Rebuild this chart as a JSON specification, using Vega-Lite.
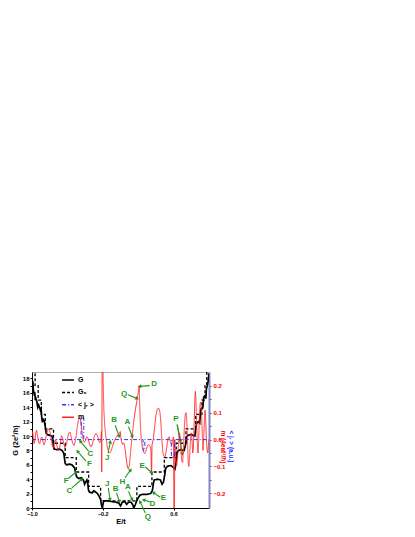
{
"$schema": "https://vega.github.io/schema/vega-lite/v6.json",
"autosize": {"type": "none"},
"width": 177,
"height": 136,
"padding": {"left": 32, "top": 372, "right": 206, "bottom": 29},
"background": "white",
"config": {
  "font": "Liberation Sans",
  "view": {"stroke": "#b0b0b0", "strokeWidth": 1},
  "axis": {"labelFontSize": 6, "labelFontWeight": "bold", "titleFontSize": 7.5, "titleFontWeight": "bold", "grid": false, "tickSize": 2, "labelPadding": 1, "titlePadding": 2, "labelOverlap": false, "domainColor": "#000", "tickColor": "#000", "labelColor": "#000", "titleColor": "#000"},
  "legend": {"orient": "none", "legendX": 29, "legendY": 1, "title": null, "symbolType": "stroke", "symbolSize": 140, "symbolStrokeWidth": 1.5, "labelFontSize": 7, "labelFontWeight": "bold", "rowPadding": 2.4, "labelOffset": 3}
},
"datasets": {
  "g0": [
    {"E": -1.0, "v": 19, "s": "G₀"}, {"E": -0.965, "v": 17, "s": "G₀"}, {"E": -0.93, "v": 15, "s": "G₀"}, {"E": -0.895, "v": 13, "s": "G₀"}, {"E": -0.85, "v": 11, "s": "G₀"}, {"E": -0.757, "v": 9, "s": "G₀"}, {"E": -0.625, "v": 7, "s": "G₀"}, {"E": -0.5, "v": 5, "s": "G₀"}, {"E": -0.36, "v": 3, "s": "G₀"}, {"E": -0.225, "v": 1, "s": "G₀"}, {"E": 0.185, "v": 3, "s": "G₀"}, {"E": 0.355, "v": 5, "s": "G₀"}, {"E": 0.495, "v": 7, "s": "G₀"}, {"E": 0.63, "v": 9, "s": "G₀"}, {"E": 0.74, "v": 11, "s": "G₀"}, {"E": 0.85, "v": 13, "s": "G₀"}, {"E": 0.92, "v": 15, "s": "G₀"}, {"E": 0.955, "v": 17, "s": "G₀"}, {"E": 0.975, "v": 19, "s": "G₀"}, {"E": 1.0, "v": 19, "s": "G₀"}
  ],
  "g": [
    {"E": -1.0, "v": 18.2}, {"E": -0.995, "v": 17.2}, {"E": -0.99, "v": 17.6}, {"E": -0.985, "v": 16.4}, {"E": -0.975, "v": 15.8}, {"E": -0.968, "v": 15.9}, {"E": -0.962, "v": 15.0}, {"E": -0.955, "v": 15.2}, {"E": -0.945, "v": 14.8}, {"E": -0.935, "v": 14.0}, {"E": -0.925, "v": 14.3}, {"E": -0.915, "v": 14.0}, {"E": -0.905, "v": 13.6}, {"E": -0.897, "v": 13.8}, {"E": -0.89, "v": 12.6}, {"E": -0.882, "v": 11.9}, {"E": -0.872, "v": 12.3}, {"E": -0.86, "v": 12.1}, {"E": -0.85, "v": 11.3}, {"E": -0.84, "v": 10.4}, {"E": -0.825, "v": 10.2}, {"E": -0.8, "v": 10.1}, {"E": -0.775, "v": 10.0}, {"E": -0.765, "v": 9.6}, {"E": -0.758, "v": 8.6}, {"E": -0.75, "v": 8.2}, {"E": -0.72, "v": 8.1}, {"E": -0.69, "v": 8.2}, {"E": -0.66, "v": 8.0}, {"E": -0.64, "v": 7.6}, {"E": -0.632, "v": 6.8}, {"E": -0.625, "v": 6.2}, {"E": -0.61, "v": 6.0}, {"E": -0.58, "v": 6.1}, {"E": -0.55, "v": 6.0}, {"E": -0.52, "v": 5.6}, {"E": -0.505, "v": 4.8}, {"E": -0.495, "v": 4.3}, {"E": -0.47, "v": 4.1}, {"E": -0.44, "v": 4.2}, {"E": -0.42, "v": 3.9}, {"E": -0.405, "v": 3.3}, {"E": -0.395, "v": 3.6}, {"E": -0.38, "v": 3.9}, {"E": -0.37, "v": 3.4}, {"E": -0.362, "v": 2.5}, {"E": -0.35, "v": 2.2}, {"E": -0.32, "v": 2.1}, {"E": -0.3, "v": 2.4}, {"E": -0.28, "v": 2.2}, {"E": -0.26, "v": 2.0}, {"E": -0.24, "v": 1.6}, {"E": -0.225, "v": 1.2}, {"E": -0.215, "v": 0.4}, {"E": -0.205, "v": 0.0}, {"E": -0.198, "v": 0.5}, {"E": -0.19, "v": 1.0}, {"E": -0.15, "v": 1.0}, {"E": -0.1, "v": 0.9}, {"E": -0.05, "v": 0.8}, {"E": -0.02, "v": 0.7}, {"E": 0.0, "v": 0.3}, {"E": 0.02, "v": 0.8}, {"E": 0.05, "v": 0.9}, {"E": 0.07, "v": 0.5}, {"E": 0.09, "v": 0.8}, {"E": 0.12, "v": 0.8}, {"E": 0.14, "v": 0.4}, {"E": 0.15, "v": 0.0}, {"E": 0.165, "v": 0.4}, {"E": 0.18, "v": 0.9}, {"E": 0.2, "v": 1.4}, {"E": 0.22, "v": 1.8}, {"E": 0.25, "v": 1.9}, {"E": 0.3, "v": 1.9}, {"E": 0.34, "v": 2.0}, {"E": 0.36, "v": 2.4}, {"E": 0.37, "v": 3.3}, {"E": 0.38, "v": 3.9}, {"E": 0.42, "v": 4.0}, {"E": 0.45, "v": 3.9}, {"E": 0.47, "v": 3.3}, {"E": 0.485, "v": 3.6}, {"E": 0.5, "v": 4.6}, {"E": 0.51, "v": 5.5}, {"E": 0.53, "v": 5.8}, {"E": 0.57, "v": 5.9}, {"E": 0.6, "v": 5.6}, {"E": 0.615, "v": 5.4}, {"E": 0.625, "v": 6.0}, {"E": 0.635, "v": 7.2}, {"E": 0.645, "v": 7.9}, {"E": 0.68, "v": 8.1}, {"E": 0.72, "v": 8.0}, {"E": 0.735, "v": 8.8}, {"E": 0.745, "v": 9.8}, {"E": 0.76, "v": 10.1}, {"E": 0.8, "v": 10.2}, {"E": 0.84, "v": 10.0}, {"E": 0.85, "v": 11.0}, {"E": 0.86, "v": 11.8}, {"E": 0.88, "v": 12.0}, {"E": 0.895, "v": 11.8}, {"E": 0.9, "v": 12.8}, {"E": 0.91, "v": 13.8}, {"E": 0.93, "v": 13.9}, {"E": 0.935, "v": 14.6}, {"E": 0.94, "v": 15.4}, {"E": 0.955, "v": 15.6}, {"E": 0.965, "v": 15.2}, {"E": 0.97, "v": 16.5}, {"E": 0.98, "v": 17.0}, {"E": 0.99, "v": 17.6}, {"E": 1.0, "v": 18.7}
  ],
  "m": [
    {"E": -1.0, "v": 0.015}, {"E": -0.993, "v": 0.03}, {"E": -0.985, "v": 0.01}, {"E": -0.978, "v": -0.015}, {"E": -0.968, "v": -0.005}, {"E": -0.958, "v": 0.025}, {"E": -0.948, "v": 0.035}, {"E": -0.938, "v": 0.015}, {"E": -0.926, "v": -0.01}, {"E": -0.912, "v": -0.015}, {"E": -0.9, "v": 0.005}, {"E": -0.888, "v": 0.01}, {"E": -0.875, "v": -0.01}, {"E": -0.862, "v": -0.02}, {"E": -0.85, "v": -0.005}, {"E": -0.835, "v": 0.022}, {"E": -0.82, "v": 0.038}, {"E": -0.806, "v": 0.04}, {"E": -0.794, "v": 0.025}, {"E": -0.782, "v": 0.0}, {"E": -0.77, "v": -0.025}, {"E": -0.757, "v": -0.03}, {"E": -0.745, "v": -0.01}, {"E": -0.733, "v": 0.0}, {"E": -0.72, "v": -0.02}, {"E": -0.706, "v": -0.04}, {"E": -0.692, "v": -0.04}, {"E": -0.68, "v": -0.015}, {"E": -0.668, "v": 0.015}, {"E": -0.656, "v": 0.01}, {"E": -0.642, "v": -0.015}, {"E": -0.628, "v": -0.03}, {"E": -0.612, "v": -0.02}, {"E": -0.598, "v": 0.005}, {"E": -0.584, "v": 0.025}, {"E": -0.57, "v": 0.028}, {"E": -0.556, "v": 0.008}, {"E": -0.54, "v": -0.015}, {"E": -0.525, "v": -0.022}, {"E": -0.512, "v": -0.008}, {"E": -0.5, "v": 0.015}, {"E": -0.488, "v": 0.05}, {"E": -0.476, "v": 0.072}, {"E": -0.465, "v": 0.08}, {"E": -0.455, "v": 0.078}, {"E": -0.445, "v": 0.06}, {"E": -0.435, "v": 0.03}, {"E": -0.425, "v": 0.005}, {"E": -0.412, "v": -0.01}, {"E": -0.398, "v": -0.006}, {"E": -0.384, "v": 0.01}, {"E": -0.37, "v": 0.008}, {"E": -0.356, "v": -0.01}, {"E": -0.342, "v": -0.024}, {"E": -0.328, "v": -0.026}, {"E": -0.314, "v": -0.012}, {"E": -0.3, "v": 0.008}, {"E": -0.285, "v": 0.02}, {"E": -0.27, "v": 0.022}, {"E": -0.255, "v": 0.008}, {"E": -0.242, "v": -0.008}, {"E": -0.232, "v": -0.012}, {"E": -0.222, "v": 0.0}, {"E": -0.215, "v": 0.03}, {"E": -0.212, "v": -0.12}, {"E": -0.207, "v": 0.3}, {"E": -0.2, "v": 0.3}, {"E": -0.195, "v": 0.2}, {"E": -0.188, "v": 0.11}, {"E": -0.178, "v": 0.05}, {"E": -0.165, "v": 0.01}, {"E": -0.15, "v": -0.025}, {"E": -0.135, "v": -0.045}, {"E": -0.12, "v": -0.05}, {"E": -0.105, "v": -0.042}, {"E": -0.09, "v": -0.025}, {"E": -0.07, "v": -0.005}, {"E": -0.05, "v": 0.008}, {"E": -0.03, "v": 0.016}, {"E": -0.012, "v": 0.025}, {"E": -0.002, "v": 0.03}, {"E": 0.002, "v": 0.012}, {"E": 0.012, "v": -0.008}, {"E": 0.025, "v": -0.018}, {"E": 0.035, "v": -0.012}, {"E": 0.045, "v": -0.02}, {"E": 0.058, "v": -0.05}, {"E": 0.07, "v": -0.085}, {"E": 0.08, "v": -0.105}, {"E": 0.09, "v": -0.11}, {"E": 0.1, "v": -0.095}, {"E": 0.112, "v": -0.055}, {"E": 0.125, "v": -0.01}, {"E": 0.14, "v": 0.04}, {"E": 0.155, "v": 0.08}, {"E": 0.17, "v": 0.115}, {"E": 0.185, "v": 0.145}, {"E": 0.198, "v": 0.17}, {"E": 0.208, "v": 0.195}, {"E": 0.212, "v": 0.2}, {"E": 0.217, "v": 0.13}, {"E": 0.225, "v": 0.05}, {"E": 0.235, "v": 0.0}, {"E": 0.248, "v": -0.03}, {"E": 0.262, "v": -0.048}, {"E": 0.276, "v": -0.052}, {"E": 0.29, "v": -0.04}, {"E": 0.305, "v": -0.022}, {"E": 0.32, "v": -0.018}, {"E": 0.335, "v": -0.025}, {"E": 0.345, "v": -0.04}, {"E": 0.348, "v": -0.12}, {"E": 0.352, "v": -0.12}, {"E": 0.356, "v": -0.02}, {"E": 0.37, "v": 0.0}, {"E": 0.385, "v": 0.045}, {"E": 0.4, "v": 0.09}, {"E": 0.415, "v": 0.112}, {"E": 0.43, "v": 0.118}, {"E": 0.445, "v": 0.105}, {"E": 0.457, "v": 0.06}, {"E": 0.467, "v": 0.0}, {"E": 0.478, "v": -0.045}, {"E": 0.49, "v": -0.062}, {"E": 0.502, "v": -0.065}, {"E": 0.515, "v": -0.045}, {"E": 0.528, "v": -0.015}, {"E": 0.54, "v": 0.008}, {"E": 0.552, "v": 0.01}, {"E": 0.565, "v": -0.01}, {"E": 0.578, "v": -0.02}, {"E": 0.59, "v": 0.0}, {"E": 0.598, "v": 0.01}, {"E": 0.603, "v": -0.26}, {"E": 0.61, "v": -0.26}, {"E": 0.613, "v": 0.0}, {"E": 0.618, "v": -0.04}, {"E": 0.627, "v": -0.08}, {"E": 0.636, "v": -0.095}, {"E": 0.645, "v": -0.065}, {"E": 0.655, "v": -0.02}, {"E": 0.665, "v": 0.025}, {"E": 0.673, "v": 0.01}, {"E": 0.682, "v": -0.04}, {"E": 0.692, "v": -0.08}, {"E": 0.702, "v": -0.085}, {"E": 0.712, "v": -0.03}, {"E": 0.722, "v": 0.05}, {"E": 0.732, "v": 0.095}, {"E": 0.742, "v": 0.1}, {"E": 0.75, "v": 0.06}, {"E": 0.758, "v": -0.02}, {"E": 0.766, "v": -0.09}, {"E": 0.774, "v": -0.1}, {"E": 0.783, "v": -0.05}, {"E": 0.792, "v": 0.01}, {"E": 0.8, "v": 0.025}, {"E": 0.808, "v": 0.0}, {"E": 0.816, "v": -0.05}, {"E": 0.824, "v": -0.03}, {"E": 0.832, "v": 0.06}, {"E": 0.84, "v": 0.15}, {"E": 0.846, "v": 0.18}, {"E": 0.852, "v": 0.15}, {"E": 0.86, "v": 0.06}, {"E": 0.868, "v": -0.01}, {"E": 0.876, "v": -0.05}, {"E": 0.884, "v": 0.0}, {"E": 0.892, "v": 0.09}, {"E": 0.9, "v": 0.135}, {"E": 0.908, "v": 0.14}, {"E": 0.916, "v": 0.1}, {"E": 0.924, "v": 0.02}, {"E": 0.932, "v": -0.04}, {"E": 0.94, "v": 0.0}, {"E": 0.948, "v": 0.07}, {"E": 0.955, "v": 0.11}, {"E": 0.962, "v": 0.08}, {"E": 0.97, "v": 0.0}, {"E": 0.978, "v": -0.04}, {"E": 0.986, "v": -0.05}, {"E": 0.994, "v": -0.02}, {"E": 1.0, "v": 0.0}
  ],
  "j": [
    {"E": -1.0, "v": 0.0}, {"E": -0.445, "v": 0.08}, {"E": -0.415, "v": 0.0}, {"E": 0.255, "v": -0.04}, {"E": 0.275, "v": 0.0}, {"E": 0.575, "v": -0.065}, {"E": 0.61, "v": 0.0}, {"E": 1.0, "v": 0.0}
  ],
  "arr": [
    {"x1": 0.33, "y1": 17.0, "x2": 0.215, "y2": 16.9},
    {"x1": 0.085, "y1": 15.75, "x2": 0.19, "y2": 15.2},
    {"x1": -0.06, "y1": 11.5, "x2": -0.015, "y2": 9.95},
    {"x1": 0.09, "y1": 11.3, "x2": 0.135, "y2": 9.9},
    {"x1": -0.14, "y1": 7.6, "x2": -0.115, "y2": 9.2},
    {"x1": 0.05, "y1": 4.2, "x2": 0.115, "y2": 5.3},
    {"x1": 0.28, "y1": 5.7, "x2": 0.355, "y2": 4.9},
    {"x1": 0.45, "y1": 1.5, "x2": 0.37, "y2": 2.15},
    {"x1": 0.33, "y1": 0.85, "x2": 0.26, "y2": 1.15},
    {"x1": 0.28, "y1": -0.7, "x2": 0.22, "y2": 0.9},
    {"x1": 0.09, "y1": 2.3, "x2": 0.133, "y2": 1.15},
    {"x1": -0.045, "y1": 2.1, "x2": -0.013, "y2": 0.9},
    {"x1": -0.138, "y1": 2.8, "x2": -0.118, "y2": 1.15},
    {"x1": 0.64, "y1": 11.6, "x2": 0.68, "y2": 9.3},
    {"x1": 0.64, "y1": 11.6, "x2": 0.7, "y2": 7.5},
    {"x1": -0.36, "y1": 7.9, "x2": -0.456, "y2": 9.3},
    {"x1": -0.39, "y1": 6.5, "x2": -0.487, "y2": 7.9},
    {"x1": -0.59, "y1": 4.1, "x2": -0.5, "y2": 5.0},
    {"x1": -0.55, "y1": 2.8, "x2": -0.437, "y2": 4.0}
  ],
  "lab": [
    {"t": "D", "E": 0.38, "v": 17.2}, {"t": "Q", "E": 0.04, "v": 15.8}, {"t": "B", "E": -0.073, "v": 12.2}, {"t": "A", "E": 0.077, "v": 11.9}, {"t": "J", "E": -0.15, "v": 7.0}, {"t": "H", "E": 0.02, "v": 3.65}, {"t": "E", "E": 0.245, "v": 5.9}, {"t": "E", "E": 0.485, "v": 1.35}, {"t": "D", "E": 0.36, "v": 0.6}, {"t": "Q", "E": 0.31, "v": -1.2}, {"t": "A", "E": 0.083, "v": 2.85}, {"t": "B", "E": -0.055, "v": 2.65}, {"t": "J", "E": -0.149, "v": 3.4}, {"t": "P", "E": 0.625, "v": 12.3}, {"t": "C", "E": -0.34, "v": 7.45}, {"t": "F", "E": -0.351, "v": 6.05}, {"t": "F", "E": -0.614, "v": 3.7}, {"t": "C", "E": -0.577, "v": 2.4}
  ]
},
"layer": [
  {
    "encoding": {
      "x": {"field": "E", "type": "quantitative", "scale": {"domain": [-1, 1], "nice": false, "zero": false},
            "axis": {"title": "E/t", "values": [-1, -0.8, -0.6, -0.4, -0.2, 0, 0.2, 0.4, 0.6, 0.8, 1], "format": ".1f", "labelFontSize": 5.4, "labelOverlap": false, "labelFlush": false, "labelSeparation": 0, "titlePadding": 1}},
      "y": {"field": "v", "type": "quantitative", "scale": {"domain": [0, 18.9], "nice": false, "zero": false},
            "axis": {"title": "G (2e²/h)", "orient": "left", "values": [0,1,2,3,4,5,6,7,8,9,10,11,12,13,14,15,16,17,18], "labelExpr": "datum.value % 2 == 0 ? datum.label : ''", "labelOverlap": false, "titlePadding": 3}}
    },
    "layer": [
      {
        "data": {"name": "g0"},
        "mark": {"type": "line", "interpolate": "step-after", "strokeWidth": 1.3, "clip": true},
        "encoding": {
          "color": {"field": "s", "type": "nominal", "scale": {"domain": ["G", "G₀", "< jᵣ >", "m"], "range": ["#000000", "#000000", "#3030ff", "#ff2020"]}},
          "strokeDash": {"field": "s", "type": "nominal", "scale": {"domain": ["G", "G₀", "< jᵣ >", "m"], "range": [[1, 0], [3, 2], [4, 2, 1, 2], [1, 0]]}}
        }
      },
      {
        "data": {"name": "g"},
        "transform": [{"calculate": "'G'", "as": "s"}],
        "mark": {"type": "line", "strokeWidth": 1.7, "clip": true},
        "encoding": {
          "color": {"field": "s", "type": "nominal"},
          "strokeDash": {"field": "s", "type": "nominal"}
        }
      },
      {
        "data": {"name": "lab"},
        "mark": {"type": "text", "color": "#1f9a1f", "fontSize": 8, "fontWeight": "bold", "clip": false},
        "encoding": {
          "text": {"field": "t"}
        }
      },
      {
        "data": {"name": "arr"},
        "mark": {"type": "rule", "color": "#1f9a1f", "strokeWidth": 1.1, "clip": false},
        "encoding": {
          "x": {"field": "x1", "type": "quantitative"},
          "x2": {"field": "x2"},
          "y": {"field": "y1", "type": "quantitative"},
          "y2": {"field": "y2"}
        }
      },
      {
        "data": {"name": "arr"},
        "transform": [{"calculate": "atan2((datum.x2-datum.x1)*88.5, (datum.y2-datum.y1)*7.196)*180/PI", "as": "ang"}],
        "mark": {"type": "point", "shape": "triangle-up", "filled": true, "color": "#1f9a1f", "size": 16, "opacity": 1, "clip": false},
        "encoding": {
          "x": {"field": "x2", "type": "quantitative"},
          "y": {"field": "y2", "type": "quantitative"},
          "angle": {"field": "ang", "type": "quantitative", "scale": null}
        }
      }
    ]
  },
  {
    "data": {"name": "m"},
    "transform": [{"calculate": "'m'", "as": "s"}],
    "mark": {"type": "line", "strokeWidth": 0.9, "clip": true},
    "encoding": {
      "x": {"field": "E", "type": "quantitative"},
      "y": {"field": "v", "type": "quantitative", "scale": {"domain": [-0.255, 0.252], "nice": false, "zero": false},
            "axis": {"title": "m (4eat²/ħ)", "orient": "right", "values": [-0.2, -0.15, -0.1, -0.05, 0, 0.05, 0.1, 0.15, 0.2], "labelExpr": "abs(round(datum.value*20)) % 2 == 0 ? format(datum.value, '.1f') : ''", "labelOverlap": false, "labelColor": "#ff0000", "titleColor": "#ff0000", "titleFontSize": 6.5, "domain": false, "tickColor": "#444", "labelPadding": 2, "titleAngle": 90, "titleX": 13, "titleY": 58, "titleAlign": "left", "titleBaseline": "middle"}},
      "color": {"field": "s", "type": "nominal"},
      "strokeDash": {"field": "s", "type": "nominal"}
    }
  },
  {
    "data": {"name": "j"},
    "transform": [{"calculate": "'< jᵣ >'", "as": "s"}],
    "mark": {"type": "line", "interpolate": "step-after", "strokeWidth": 1, "clip": true},
    "encoding": {
      "x": {"field": "E", "type": "quantitative"},
      "y": {"field": "v", "type": "quantitative", "scale": {"domain": [-0.255, 0.252], "nice": false, "zero": false},
            "axis": {"title": "< jᵣ > (a.u.)", "orient": "right", "ticks": false, "labels": false, "domainColor": "#8484c4", "domainWidth": 2, "titleColor": "#3030ff", "titleFontSize": 6.5, "titleAngle": 90, "titleX": 21, "titleY": 58, "titleAlign": "left", "titleBaseline": "middle"}},
      "color": {"field": "s", "type": "nominal"},
      "strokeDash": {"field": "s", "type": "nominal"}
    }
  }
],
"resolve": {"scale": {"y": "independent"}}
}
